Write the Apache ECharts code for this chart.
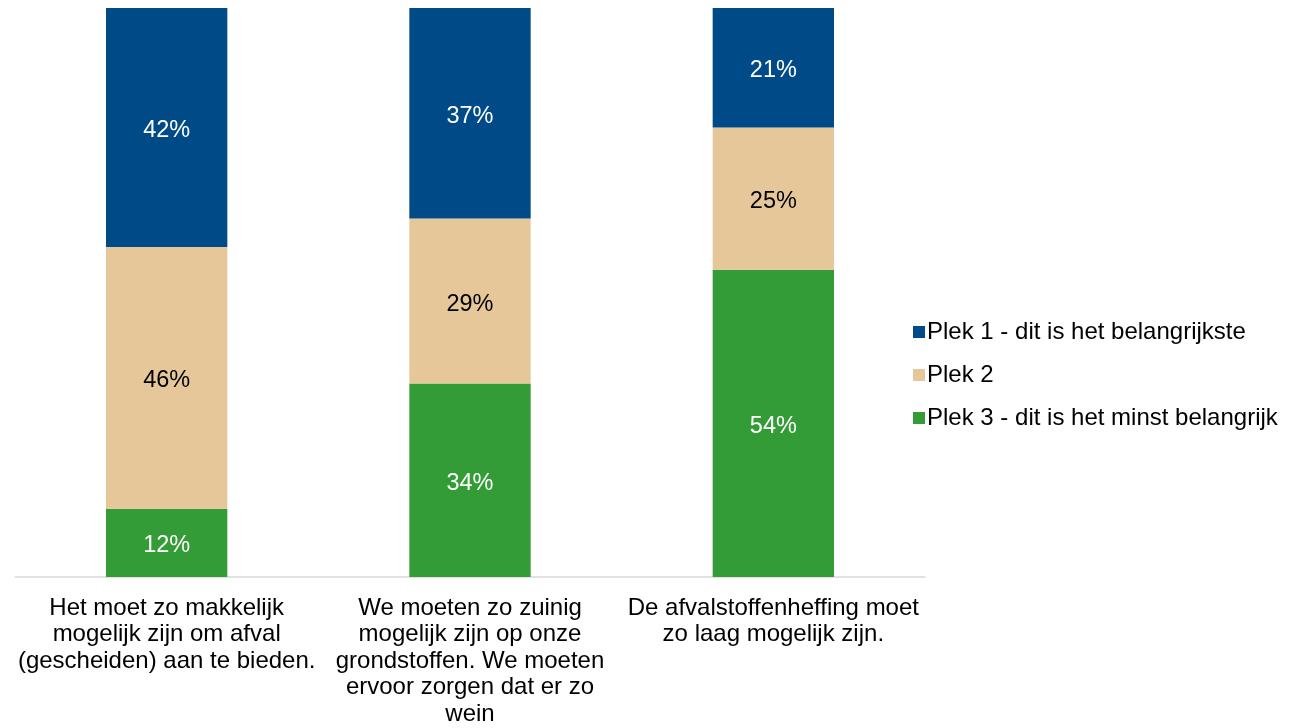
<!DOCTYPE html>
<html><head><meta charset="utf-8">
<script src="https://cdn.jsdelivr.net/npm/echarts@6/dist/echarts.min.js"></script>
<style>html,body{margin:0;padding:0;background:#fff}#c{width:1304px;height:728px}</style>
</head><body><div id="c"></div>
<script>
const categories = [
  "Het moet zo makkelijk\nmogelijk zijn om afval\n(gescheiden) aan te bieden.",
  "We moeten zo zuinig\nmogelijk zijn op onze\ngrondstoffen. We moeten\nervoor zorgen dat er zo\nwein",
  "De afvalstoffenheffing moet\nzo laag mogelijk zijn."
];
const seriesNames = ["Plek 1 - dit is het belangrijkste", "Plek 2", "Plek 3 - dit is het minst belangrijk"];
const plek1 = [42, 37, 21];
const plek2 = [46, 29, 25];
const plek3 = [12, 34, 54];

const font = '"Liberation Sans", Arial, sans-serif';
const colors = ['#004B87', '#E5C79A', '#349C36'];
const labelColors = ['#ffffff', '#000000', '#ffffff'];
const dataSets = [plek1, plek2, plek3];

// stacking order bottom-up: Plek 3, Plek 2, Plek 1
const order = [2, 1, 0];
const series = order.map(i => ({
  name: seriesNames[i],
  type: 'bar',
  stack: 'total',
  data: dataSets[i],
  barWidth: '40%',
  itemStyle: { color: colors[i] },
  label: {
    show: true, position: 'inside', formatter: '{c}%', offset: [0, 3],
    color: labelColors[i], fontFamily: font, fontSize: 23.5
  },
  emphasis: { disabled: true }
}));

const chart = echarts.init(document.getElementById('c'));
chart.setOption({
  animation: false,
  grid: { left: 15, right: 379, top: 8, bottom: 151, containLabel: false },
  legend: {
    orient: 'vertical', left: 908, top: 315,
    itemWidth: 12, itemHeight: 12, itemGap: 19,
    icon: 'rect',
    data: seriesNames,
    textStyle: { fontFamily: font, fontSize: 24, color: '#000', padding: [0,0,0,-3] }
  },
  xAxis: {
    type: 'category', data: categories,
    axisLine: { lineStyle: { color: '#D9D9D9', width: 1.5 } },
    axisTick: { show: false },
    axisLabel: { fontFamily: font, fontSize: 24, color: '#000', lineHeight: 26.5, margin: 18, interval: 0 }
  },
  yAxis: { type: 'value', min: 0, max: 100, show: false, splitLine: { show: false } },
  series: series
});
</script></body></html>
